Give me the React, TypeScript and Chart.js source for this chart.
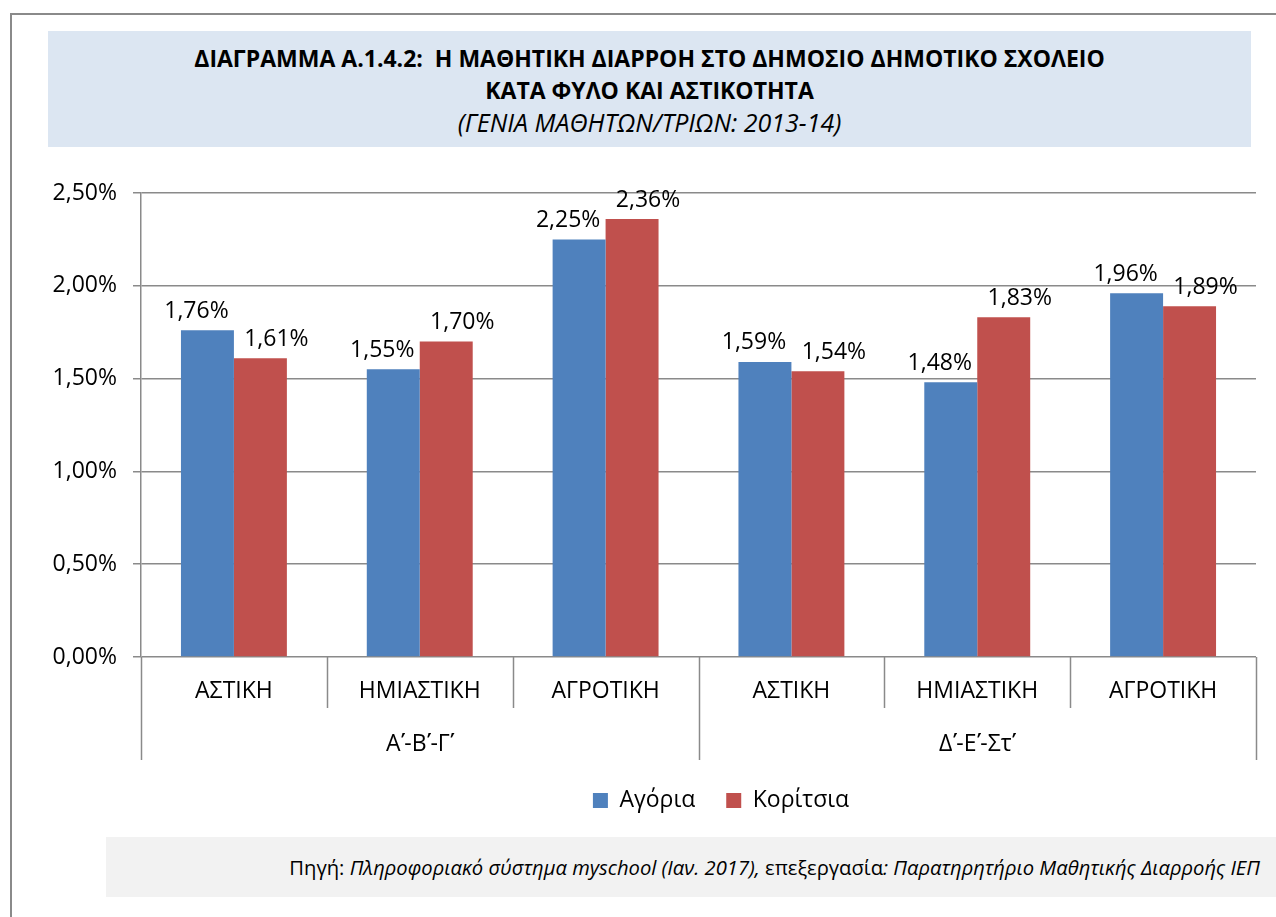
import React, { useEffect, useRef } from "react";
import { Chart, registerables } from "chart.js";

Chart.register(...registerables);

const categories = ["ΑΣΤΙΚΗ", "ΗΜΙΑΣΤΙΚΗ", "ΑΓΡΟΤΙΚΗ", "ΑΣΤΙΚΗ", "ΗΜΙΑΣΤΙΚΗ", "ΑΓΡΟΤΙΚΗ"];
const groups = ["Α\u0374-Β\u0374-Γ\u0374", "Δ\u0374-Ε\u0374-Στ\u0374"];
const groupSize = 3;
const boys = [1.76, 1.55, 2.25, 1.59, 1.48, 1.96];
const girls = [1.61, 1.7, 2.36, 1.54, 1.83, 1.89];
const seriesNames = ["Αγόρια", "Κορίτσια"];
const seriesColors = ["#4f81bd", "#c0504d"];
const yMax = 2.5;
const yStep = 0.5;

const FONT = "'Open Sans', 'Noto Sans', sans-serif";
const GRID = "#8a8a8a";

const fmt = (v: number) => v.toFixed(2).replace(".", ",") + "%";

const CANVAS_TOP = 150;
const CANVAS_H = 690;

const labelPlugin = {
  id: "barLabels",
  afterDatasetsDraw(chart: any) {
    const ctx = chart.ctx;
    ctx.save();
    ctx.font = `23px ${FONT}`;
    ctx.fillStyle = "#000";
    ctx.textAlign = "center";
    ctx.textBaseline = "middle";
    const xOff = [-11, 16];
    chart.data.datasets.forEach((ds: any, di: number) => {
      const meta = chart.getDatasetMeta(di);
      meta.data.forEach((bar: any, i: number) => {
        ctx.fillText(fmt(ds.data[i]), bar.x + xOff[di], bar.y - 19);
      });
    });
    ctx.restore();
  },
};

const legendShift = {
  id: "legendShift",
  afterLayout(chart: any) {
    if (chart.legend) {
      chart.legend.left += 93;
      chart.legend.right += 93;
    }
  },
};

const axisPlugin = {
  id: "multiAxis",
  afterDraw(chart: any) {
    const ctx = chart.ctx;
    const xs = chart.scales.x;
    const bottom = chart.chartArea.bottom;
    ctx.save();
    ctx.strokeStyle = GRID;
    ctx.lineWidth = 1.5;
    for (let i = 0; i <= categories.length; i++) {
      const x = Math.round(xs.getPixelForValue(i - 0.5)) + 0.5;
      const long = i % groupSize === 0;
      ctx.beginPath();
      ctx.moveTo(x, bottom);
      ctx.lineTo(x, bottom + (long ? 103 : 51));
      ctx.stroke();
    }
    ctx.font = `23px ${FONT}`;
    ctx.fillStyle = "#000";
    ctx.textAlign = "center";
    ctx.textBaseline = "middle";
    groups.forEach((g, gi) => {
      const x0 = xs.getPixelForValue(gi * groupSize - 0.5);
      const x1 = xs.getPixelForValue((gi + 1) * groupSize - 0.5);
      ctx.fillText(g, (x0 + x1) / 2, bottom + 87);
    });
    ctx.restore();
  },
};

export default function App() {
  const ref = useRef<HTMLCanvasElement | null>(null);

  useEffect(() => {
    if (!ref.current) return;
    const chart = new Chart(ref.current, {
      type: "bar",
      data: {
        labels: categories,
        datasets: [
          { label: seriesNames[0], data: boys, backgroundColor: seriesColors[0] },
          { label: seriesNames[1], data: girls, backgroundColor: seriesColors[1] },
        ],
      },
      options: {
        animation: false,
        responsive: false,
        maintainAspectRatio: false,
        datasets: { bar: { categoryPercentage: 0.57, barPercentage: 1 } },
        layout: { padding: { left: 0, right: 20, top: 43, bottom: 18 } },
        plugins: {
          title: { display: false },
          tooltip: { enabled: false },
          legend: {
            display: true,
            position: "bottom",
            labels: {
              font: { family: FONT, size: 23 },
              color: "#000",
              boxWidth: 15,
              boxHeight: 15,
              padding: 31,
            },
          },
        },
        scales: {
          x: {
            offset: true,
            grid: { display: false },
            border: { display: false },
            ticks: {
              font: { family: FONT, size: 23 },
              color: "#000",
              padding: 13,
              maxRotation: 0,
              autoSkip: false,
            },
            afterFit(scale: any) {
              scale.height = 101;
            },
          },
          y: {
            min: 0,
            max: yMax,
            ticks: {
              stepSize: yStep,
              font: { family: FONT, size: 23 },
              color: "#000",
              padding: 16,
              callback: (v: any) => fmt(Number(v)),
            },
            grid: { color: GRID, lineWidth: 1.5, tickLength: 8, drawTicks: true },
            border: { display: true, color: GRID, width: 1.5 },
            afterFit(scale: any) {
              scale.width = 141;
            },
          },
        },
      },
      plugins: [labelPlugin, axisPlugin, legendShift],
    });
    return () => chart.destroy();
  }, []);

  return (
    <div style={{ position: "fixed", left: 0, top: 0, width: 1276, height: 917, overflow: "hidden", background: "#fff", fontFamily: FONT }}>
      <div style={{ position: "absolute", left: 10, top: 13, width: 1400, height: 1000, border: "2px solid #8a8a8a" }} />
      <div
        style={{
          position: "absolute",
          left: 48,
          top: 31,
          width: 1203,
          height: 116,
          background: "#dce6f2",
          textAlign: "center",
          color: "#000",
          lineHeight: "32px",
          paddingTop: 11,
          boxSizing: "border-box",
        }}
      >
        <div style={{ fontWeight: 700, fontSize: 23 }}>ΔΙΑΓΡΑΜΜΑ Α.1.4.2:&nbsp; Η ΜΑΘΗΤΙΚΗ ΔΙΑΡΡΟΗ ΣΤΟ ΔΗΜΟΣΙΟ ΔΗΜΟΤΙΚΟ ΣΧΟΛΕΙΟ</div>
        <div style={{ fontWeight: 700, fontSize: 23 }}>ΚΑΤΑ ΦΥΛΟ ΚΑΙ ΑΣΤΙΚΟΤΗΤΑ</div>
        <div style={{ fontStyle: "italic", fontSize: 25 }}>(ΓΕΝΙΑ ΜΑΘΗΤΩΝ/ΤΡΙΩΝ: 2013-14)</div>
      </div>
      <div
        style={{
          position: "absolute",
          left: 106,
          top: 837,
          width: 1170,
          height: 60,
          background: "#f2f2f2",
          color: "#000",
          fontSize: 20.2,
          lineHeight: "60px",
          textAlign: "right",
          paddingRight: 16,
          boxSizing: "border-box",
          whiteSpace: "nowrap",
        }}
      >
        Πηγή: <i>Πληροφοριακό σύστημα myschool (Ιαν. 2017),</i> επεξεργασία<i>: Παρατηρητήριο Μαθητικής Διαρροής ΙΕΠ</i>
      </div>
      <canvas
        ref={ref}
        width={1276}
        height={CANVAS_H}
        style={{ position: "absolute", left: 0, top: CANVAS_TOP, width: 1276, height: CANVAS_H }}
      />
    </div>
  );
}
